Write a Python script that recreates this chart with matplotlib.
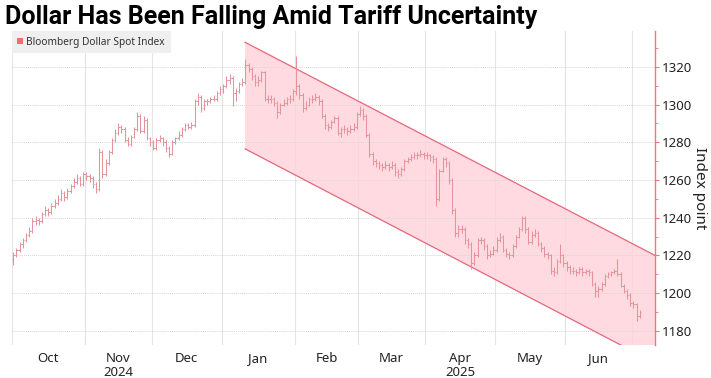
#!/usr/bin/env python3
"""Bloomberg Dollar Spot Index, daily bars, with the falling channel since January."""

import numpy as np
import pandas as pd
import matplotlib
matplotlib.use('Agg')
import matplotlib.pyplot as plt
from matplotlib.patches import Rectangle, Polygon

# --- data ---
start_date = '2024-10-01'
end_date = '2025-07-03'
first_open = 1218

closes = [
    1220, 1223, 1226, 1228, 1231, 1233, 1238, 1239, 1238, 1242, 1244, 1243, 1246, 1248, 1250, 1253, 1251, 1254, 1257, 1259, 1261, 1258, 1263,
    1262, 1261, 1258, 1255, 1275, 1263, 1269, 1275, 1281, 1285, 1288, 1287, 1281, 1279, 1283, 1287, 1294, 1286, 1292, 1282, 1280,
    1277, 1281, 1282, 1280, 1277, 1274, 1280, 1282, 1284, 1287, 1289, 1288, 1289, 1302, 1304, 1298, 1302, 1302, 1303, 1303, 1306, 1308,
    1310, 1313, 1314, 1306, 1307, 1311, 1312, 1321, 1319, 1315, 1312, 1313, 1317, 1303, 1303, 1303, 1301, 1296, 1300, 1301, 1303, 1303, 1307,
    1310, 1305, 1298, 1300, 1303, 1303, 1304, 1302, 1294, 1289, 1288, 1291, 1293, 1285, 1287, 1287, 1286, 1287, 1288, 1295,
    1297, 1294, 1284, 1274, 1270, 1269, 1268, 1267, 1268, 1267, 1268, 1264, 1263, 1266, 1270, 1271, 1272, 1273, 1273, 1274, 1273,
    1273, 1272, 1271, 1250, 1265, 1271, 1269, 1260, 1244, 1232, 1234, 1234, 1228, 1226, 1216, 1220, 1228, 1228, 1225, 1220, 1221, 1223,
    1228, 1230, 1223, 1221, 1220, 1225, 1230, 1234, 1240, 1234, 1227, 1231, 1232, 1226, 1224, 1221, 1220, 1212, 1211, 1217, 1220, 1216,
    1214, 1212, 1212, 1211, 1213, 1211, 1212, 1211, 1205, 1201, 1202, 1205, 1209, 1210, 1211, 1212, 1210, 1204, 1201, 1199, 1195,
    1194, 1188, 1190,
]
highs = [
    1222, 1224, 1227, 1229, 1232, 1235, 1240, 1241, 1240, 1243, 1246, 1245, 1248, 1250, 1252, 1255, 1254, 1256, 1258, 1261, 1263, 1262, 1264,
    1264, 1263, 1262, 1259, 1277, 1276, 1271, 1276, 1282, 1287, 1290, 1289, 1288, 1283, 1284, 1288, 1296, 1295, 1294, 1293, 1283,
    1281, 1282, 1284, 1283, 1281, 1278, 1281, 1283, 1286, 1288, 1290, 1290, 1291, 1303, 1306, 1305, 1303, 1303, 1304, 1305, 1307, 1310,
    1311, 1315, 1316, 1315, 1309, 1312, 1314, 1324, 1322, 1320, 1316, 1315, 1318, 1318, 1305, 1305, 1304, 1302, 1301, 1303, 1304, 1305, 1308,
    1326, 1311, 1306, 1302, 1304, 1305, 1306, 1305, 1303, 1295, 1290, 1292, 1294, 1294, 1288, 1289, 1288, 1289, 1290, 1296,
    1299, 1298, 1295, 1285, 1275, 1271, 1270, 1269, 1270, 1269, 1270, 1269, 1266, 1267, 1271, 1272, 1274, 1275, 1275, 1276, 1275,
    1275, 1274, 1273, 1272, 1266, 1272, 1272, 1270, 1261, 1245, 1236, 1236, 1235, 1229, 1227, 1222, 1229, 1230, 1229, 1226, 1223, 1225,
    1230, 1232, 1231, 1224, 1222, 1226, 1231, 1235, 1241, 1241, 1235, 1233, 1234, 1233, 1227, 1225, 1222, 1221, 1214, 1218, 1226, 1221,
    1217, 1215, 1214, 1213, 1214, 1214, 1213, 1213, 1212, 1206, 1204, 1206, 1210, 1211, 1212, 1213, 1218, 1211, 1205, 1202, 1200,
    1196, 1195, 1191,
]
lows = [
    1215, 1219, 1222, 1224, 1227, 1230, 1232, 1236, 1236, 1237, 1241, 1241, 1242, 1245, 1247, 1249, 1249, 1250, 1253, 1256, 1258, 1257, 1257,
    1260, 1259, 1256, 1253, 1254, 1261, 1262, 1268, 1274, 1280, 1284, 1285, 1280, 1278, 1278, 1282, 1286, 1285, 1285, 1281, 1278,
    1276, 1276, 1280, 1278, 1275, 1272, 1273, 1279, 1281, 1283, 1286, 1287, 1287, 1288, 1300, 1296, 1297, 1300, 1301, 1302, 1302, 1305,
    1306, 1309, 1311, 1299, 1302, 1306, 1310, 1311, 1317, 1313, 1310, 1310, 1312, 1302, 1301, 1301, 1299, 1293, 1295, 1299, 1300, 1301, 1302,
    1305, 1303, 1296, 1297, 1299, 1301, 1302, 1300, 1293, 1287, 1286, 1287, 1290, 1284, 1283, 1285, 1284, 1285, 1286, 1287,
    1294, 1292, 1283, 1272, 1268, 1267, 1266, 1265, 1266, 1265, 1266, 1262, 1261, 1262, 1265, 1269, 1270, 1271, 1271, 1272, 1271,
    1271, 1270, 1269, 1246, 1249, 1264, 1267, 1258, 1242, 1230, 1230, 1232, 1226, 1224, 1213, 1215, 1219, 1226, 1223, 1218, 1219, 1220,
    1222, 1227, 1222, 1219, 1218, 1219, 1224, 1229, 1233, 1232, 1226, 1226, 1230, 1225, 1222, 1219, 1218, 1210, 1209, 1210, 1216, 1214,
    1212, 1210, 1210, 1209, 1210, 1209, 1210, 1209, 1204, 1198, 1198, 1201, 1204, 1208, 1209, 1210, 1209, 1203, 1200, 1197, 1193,
    1192, 1185, 1187,
]

# downward channel drawn from the January peak (trading-day position, index level)
channel_x = [72.9, 201.8]
channel_upper = [1333, 1220]
channel_lower = [1276.5, 1163]

month_names = ['Oct', 'Nov\n2024', 'Dec', 'Jan', 'Feb', 'Mar', 'Apr\n2025', 'May', 'Jun']
y_ticks = [1180, 1200, 1220, 1240, 1260, 1280, 1300, 1320]
legend_label = 'Bloomberg Dollar Spot Index'
title = 'Dollar Has Been Falling Amid Tariff Uncertainty'

BAR_COLOR = '#e4939b'
RED = '#ee7782'
FILL = '#ffd3da'

# --- build ---
dates = pd.bdate_range(start_date, end_date)
x = np.arange(len(dates))
closes = np.array(closes, dtype=float)
opens = np.concatenate([[first_open], closes[:-1]])

fig = plt.figure(figsize=(7.11, 3.78), dpi=100)
ax = fig.add_axes([11.7 / 711, 1 - 345 / 378, (655 - 11.7) / 711, (345 - 31) / 378])

# channel
poly = Polygon([(channel_x[0], channel_upper[0]), (channel_x[1], channel_upper[1]),
                (channel_x[1], channel_lower[1]), (channel_x[0], channel_lower[0])],
               closed=True, facecolor=FILL, edgecolor='none', alpha=0.8, zorder=1)
ax.add_patch(poly)
ax.plot(channel_x, channel_upper, color='#e5677c', lw=0.9, zorder=2)
ax.plot(channel_x, channel_lower, color='#e5677c', lw=0.9, zorder=2)

# OHLC bars
ax.vlines(x, lows, highs, color=BAR_COLOR, lw=0.75, zorder=3)
ax.hlines(opens, x - 0.45, x, color=BAR_COLOR, lw=0.75, zorder=3)
ax.hlines(closes, x, x + 0.45, color=BAR_COLOR, lw=0.75, zorder=3)

# month gridlines and centred labels
months = pd.Series(dates.to_period('M'))
starts = [int(np.argmax(months.values == p)) for p in months.unique()]
for s in starts:
    ax.axvline(s - 0.5, color='#e4e4e4', lw=0.8, zorder=0)
centers = [(starts[i] + starts[i + 1]) / 2 - 0.5 for i in range(len(month_names))]
ax.set_xticks(centers)
ax.set_xticklabels(month_names, fontsize=9.5, color='#222222', linespacing=1.1,
                   family='Noto Sans')
ax.tick_params(axis='x', length=0, pad=5)

ax.set_xlim(-0.5, 201.8)
ax.set_ylim(1172.5, 1339)

# right-hand axis
ax.yaxis.tick_right()
ax.yaxis.set_label_position('right')
ax.set_yticks(y_ticks)
ax.set_yticks(np.arange(1180, 1340, 10), minor=True)
ax.tick_params(axis='y', which='major', length=3, color=RED, labelsize=9.5,
               labelcolor='#222222', pad=2)
ax.tick_params(axis='y', which='minor', length=2, color=RED)
for lab in ax.get_yticklabels():
    lab.set_family('Noto Sans')
ax.set_ylabel('Index point', rotation=-90, labelpad=11, fontsize=11,
              color='#222222', family='Noto Sans')
ax.grid(axis='y', color='#d6d6d6', lw=0.7, linestyle=(0, (1, 1)), zorder=0)

for side in ['top', 'left', 'bottom']:
    ax.spines[side].set_visible(False)
ax.spines['right'].set_color(RED)
ax.spines['right'].set_linewidth(1.0)

# legend
handle = Rectangle((0, 0), 1, 1, facecolor='#f26d6d', edgecolor='none')
leg = ax.legend([handle], [legend_label], loc='upper left', bbox_to_anchor=(0, 1),
                borderaxespad=0, frameon=True, handlelength=0.6, handleheight=0.6,
                handletextpad=0.3, borderpad=0.55, prop={'family': 'Noto Sans', 'size': 7.3})
leg.get_frame().set_facecolor('#efefef')
leg.get_frame().set_edgecolor('none')
leg.get_frame().set_boxstyle('square', pad=0)
leg.get_frame().set_alpha(1)
for t in leg.get_texts():
    t.set_color('#333333')

fig.text(5 / 711, 1 - 17 / 378, title, fontsize=18, fontweight='bold',
         family='Roboto', va='center', ha='left', color='black')

fig.savefig('out.png', dpi=100)
